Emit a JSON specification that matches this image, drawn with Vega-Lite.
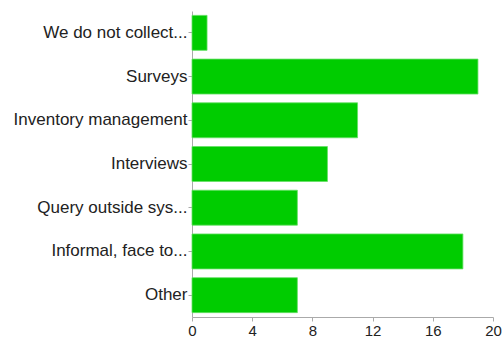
{
  "$schema": "https://vega.github.io/schema/vega-lite/v6.json",
  "width": 301,
  "height": 306,
  "autosize": {"type": "none"},
  "padding": {"left": 192, "top": 11, "right": 11, "bottom": 22},
  "background": "white",
  "data": {"values": [
    {"category": "We do not collect...", "count": 1},
    {"category": "Surveys", "count": 19},
    {"category": "Inventory management", "count": 11},
    {"category": "Interviews", "count": 9},
    {"category": "Query outside sys...", "count": 7},
    {"category": "Informal, face to...", "count": 18},
    {"category": "Other", "count": 7}
  ]},
  "mark": {"type": "bar", "color": "#00cc00", "stroke": "#66e066", "strokeWidth": 0.8},
  "encoding": {
    "y": {"field": "category", "type": "nominal", "sort": null, "title": null,
      "scale": {"paddingInner": 0.2, "paddingOuter": 0.1},
      "axis": {"domainColor": "#aaaaaa", "tickColor": "#aaaaaa", "tickSize": 4, "labelPadding": 1, "labelFontSize": 17, "labelFont": "Liberation Sans", "labelColor": "#222222", "labelLimit": 220}},
    "x": {"field": "count", "type": "quantitative", "title": null,
      "scale": {"domain": [0, 20], "nice": false},
      "axis": {"values": [0, 4, 8, 12, 16, 20], "grid": false, "domainColor": "#aaaaaa", "tickColor": "#aaaaaa", "tickSize": 4, "labelPadding": 2, "labelFontSize": 15, "labelFont": "Liberation Sans", "labelColor": "#222222", "labelFlush": false}}
  },
  "config": {"view": {"stroke": null}}
}
